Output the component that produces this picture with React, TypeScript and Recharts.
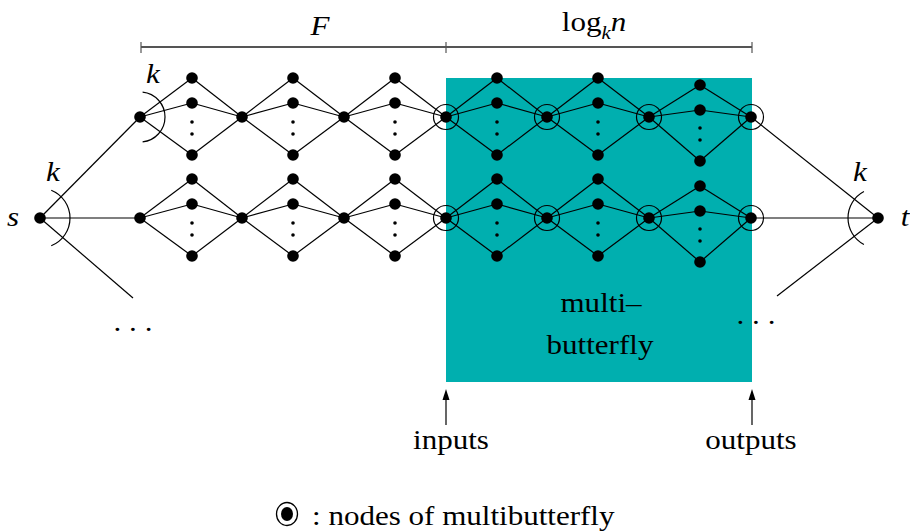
import { ScatterChart, Scatter, XAxis, YAxis, ReferenceArea, ReferenceLine } from 'recharts';

const FONT = '"Liberation Serif", "Times New Roman", serif';
const STRETCH = 1.15; // the source lettering is a bit wider than Times

// hubs: the nodes every fan starts and ends in, one row per copy
const hubXs = [140, 242, 344, 446, 547, 649, 751];
const rowYs = [117, 218];
const fanXs = [192, 293, 395, 497, 598, 700];
// fan nodes / dots as offsets from the row they belong to
const fanYs = [-39, -14, 38];
const fanDotYs = [5, 17];
const lastFanYs = [-32, -7, 44];
const lastFanDotYs = [11, 23];
const circledFrom = 3;

const source = { x: 40, y: 218 };
const sink = { x: 878, y: 218 };
const sourceEnds = [{ x: 140, y: 117 }, { x: 140, y: 218 }, { x: 133, y: 298 }];
const sinkEnds = [{ x: 751, y: 117 }, { x: 751, y: 218 }, { x: 777, y: 296 }];

const arcs = [
    { x: 40, y: 218, r: 30, a0: -68, a1: 68 },
    { x: 140, y: 117, r: 25, a0: -84, a1: 84 },
    { x: 878, y: 218, r: 30, a0: 118, a1: 242 },
];

const box = { x1: 446, x2: 752, y1: 78, y2: 382 };
const bracketY = 47;
const bracketXs = [141, 446, 752];
const arrowXs = [446, 752];
const arrowFrom = 425;
const arrowTip = 389;

const labels = [
    { x: 13, y: 217, text: 's', italic: true, anchor: 'middle' },
    { x: 53, y: 172, text: 'k', italic: true, anchor: 'middle' },
    { x: 153, y: 74, text: 'k', italic: true, anchor: 'middle' },
    { x: 860, y: 172, text: 'k', italic: true, anchor: 'middle' },
    { x: 905, y: 217, text: 't', italic: true, anchor: 'middle' },
    { x: 320, y: 26, text: 'F', italic: true, anchor: 'middle' },
    { x: 601, y: 303, text: 'multi–', italic: false, anchor: 'middle' },
    { x: 600, y: 345, text: 'butterfly', italic: false, anchor: 'middle' },
    { x: 451, y: 440, text: 'inputs', italic: false, anchor: 'middle' },
    { x: 751, y: 440, text: 'outputs', italic: false, anchor: 'middle' },
    { x: 133, y: 322, text: '. . .', italic: false, anchor: 'middle' },
    { x: 756, y: 315, text: '. . .', italic: false, anchor: 'middle' },
    { x: 312, y: 516, text: ': nodes of multibutterfly', italic: false, anchor: 'start' },
];
const logLabel = [{ x: 594, y: 22 }];
const legendMark = [{ x: 287, y: 514 }];

const nodes: { x: number, y: number }[] = []
const dots: { x: number, y: number }[] = []
const circled: { x: number, y: number }[] = []
const edges: { x: number, y: number }[][] = []

rowYs.forEach((ry) => {
    hubXs.forEach((hx, i) => {
        nodes.push({ x: hx, y: ry })
        if (i >= circledFrom) circled.push({ x: hx, y: ry })
    })
    fanXs.forEach((fx, c) => {
        const last = c === fanXs.length - 1
        const ys = last ? lastFanYs : fanYs
        const ds = last ? lastFanDotYs : fanDotYs
        ys.forEach((dy) => {
            const p = { x: fx, y: ry + dy }
            nodes.push(p)
            edges.push([{ x: hubXs[c], y: ry }, p])
            edges.push([p, { x: hubXs[c + 1], y: ry }])
        })
        ds.forEach((dy) => dots.push({ x: fx, y: ry + dy }))
    })
})
nodes.push(source, sink)
sourceEnds.forEach((p) => edges.push([source, p]))
sinkEnds.forEach((p) => edges.push([p, sink]))

const arcShape = (props: any) => {
    const { cx, cy, payload } = props
    const rad = (a: number) => (a * Math.PI) / 180
    const sx = cx + payload.r * Math.cos(rad(payload.a0))
    const sy = cy + payload.r * Math.sin(rad(payload.a0))
    const ex = cx + payload.r * Math.cos(rad(payload.a1))
    const ey = cy + payload.r * Math.sin(rad(payload.a1))
    return <path d={`M${sx},${sy} A${payload.r},${payload.r} 0 0 1 ${ex},${ey}`} fill="none" stroke="#000" strokeWidth={1.2} />
}

const textShape = (props: any) => {
    const { cx, cy, payload } = props
    return (
        <text transform={`translate(${cx},${cy}) scale(${STRETCH},1)`} x={0} y={0} dy="0.35em" textAnchor={payload.anchor}
            fontFamily={FONT} fontSize={27} fontStyle={payload.italic ? 'italic' : 'normal'} fill="#000">{payload.text}</text>
    )
}

const logShape = (props: any) => {
    const { cx, cy } = props
    return (
        <text transform={`translate(${cx},${cy}) scale(${STRETCH},1)`} x={0} y={0} dy="0.35em" textAnchor="middle"
            fontFamily={FONT} fontSize={27} fill="#000">
            log<tspan fontSize={18} fontStyle="italic" dy={8}>k</tspan><tspan fontStyle="italic" dy={-8}>n</tspan>
        </text>
    )
}

const arrowShape = (props: any) => {
    const { cx, cy } = props
    return <path d={`M${cx},${cy} L${cx - 3.5},${cy + 11} L${cx + 3.5},${cy + 11} Z`} fill="#000" />
}

const legendShape = (props: any) => {
    const { cx, cy } = props
    return (
        <g>
            <ellipse cx={cx} cy={cy} rx={10.5} ry={11.5} fill="none" stroke="#000" strokeWidth={1.3} />
            <ellipse cx={cx} cy={cy} rx={6} ry={7} fill="#000" />
        </g>
    )
}

export default function App() {
    return (
        <div style={{ position: 'absolute', left: 0, top: 0, background: '#fff' }}>
            <ScatterChart width={910} height={531} margin={{ top: 0, right: 0, bottom: 0, left: 0 }}>
                <XAxis type="number" dataKey="x" domain={[0, 910]} hide />
                <YAxis type="number" dataKey="y" domain={[0, 531]} reversed hide />
                <ReferenceArea x1={box.x1} x2={box.x2} y1={box.y1} y2={box.y2} fill="#00AFAF" fillOpacity={1} stroke="none" />
                {edges.map((e, i) => (
                    <ReferenceLine key={'e' + i} segment={e} stroke="#000" strokeWidth={1.2} />
                ))}
                <ReferenceLine segment={[{ x: bracketXs[0], y: bracketY }, { x: bracketXs[2], y: bracketY }]} stroke="#555" strokeWidth={2} />
                {bracketXs.map((bx) => (
                    <ReferenceLine key={'b' + bx} segment={[{ x: bx, y: bracketY - 5 }, { x: bx, y: bracketY + 6 }]} stroke="#555" strokeWidth={1.2} />
                ))}
                {arrowXs.map((ax) => (
                    <ReferenceLine key={'a' + ax} segment={[{ x: ax, y: arrowFrom }, { x: ax, y: arrowTip + 8 }]} stroke="#000" strokeWidth={1.2} />
                ))}
                <Scatter data={arrowXs.map((x) => ({ x, y: arrowTip }))} shape={arrowShape} isAnimationActive={false} />
                <Scatter data={arcs} shape={arcShape} isAnimationActive={false} />
                <Scatter data={circled} isAnimationActive={false}
                    shape={(p: any) => <circle cx={p.cx} cy={p.cy} r={12.5} fill="none" stroke="#000" strokeWidth={1.2} />} />
                <Scatter data={nodes} isAnimationActive={false}
                    shape={(p: any) => <circle cx={p.cx} cy={p.cy} r={5.8} fill="#000" />} />
                <Scatter data={dots} isAnimationActive={false}
                    shape={(p: any) => <circle cx={p.cx} cy={p.cy} r={1.8} fill="#000" />} />
                <Scatter data={labels} shape={textShape} isAnimationActive={false} />
                <Scatter data={logLabel} shape={logShape} isAnimationActive={false} />
                <Scatter data={legendMark} shape={legendShape} isAnimationActive={false} />
            </ScatterChart>
        </div>
    )
}
